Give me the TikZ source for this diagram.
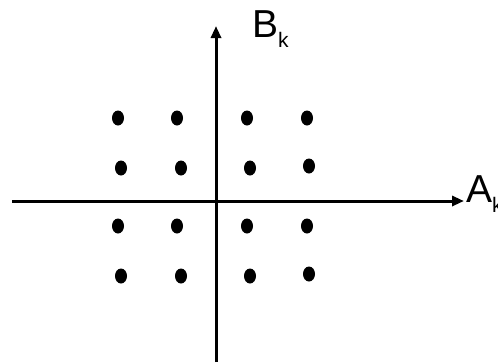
\documentclass[tikz,border=0pt]{standalone}
\usepackage{fontspec}
\setmainfont{Liberation Sans}
\usetikzlibrary{arrows.meta, shapes.geometric}
\begin{document}
\begin{tikzpicture}[
		x=1pt, y=-1pt,
		axis/.style={line width=3pt, -{Triangle[length=12pt, width=10pt]}},
		point/.style={ellipse, fill=black, minimum width=12pt, minimum height=15pt, inner sep=0pt},
		alabel/.style={inner sep=0pt, anchor=base west, font=\fontsize{39}{39}\selectfont},
	]
	\useasboundingbox (0,0) rectangle (498,362);
	\coordinate (xl) at (12, 201);
	\coordinate (xr) at (464, 201);
	\coordinate (yb) at (216, 362);
	\coordinate (yt) at (216, 26);

	\draw[axis] (xl) -- (xr);
	\draw[axis] (yb) -- (yt);

	\node[alabel] (bk) at (252, 37) {B\raisebox{-10pt}{\fontsize{21}{21}\selectfont k}};
	\node[alabel] (ak) at (466, 202) {A\raisebox{-10pt}{\fontsize{21}{21}\selectfont k}};

	% 16-QAM points
	\node[point] (p11) at (118, 118) {};
	\node[point] (p12) at (177, 118) {};
	\node[point] (p13) at (247, 118) {};
	\node[point] (p14) at (307, 118) {};
	\node[point] (p21) at (121, 168) {};
	\node[point] (p22) at (181, 168) {};
	\node[point] (p23) at (250, 168) {};
	\node[point] (p24) at (309, 166) {};
	\node[point] (p31) at (118, 226) {};
	\node[point] (p32) at (177, 226) {};
	\node[point] (p33) at (247, 226) {};
	\node[point] (p34) at (307, 226) {};
	\node[point] (p41) at (121, 276) {};
	\node[point] (p42) at (181, 276) {};
	\node[point] (p43) at (250, 276) {};
	\node[point] (p44) at (309, 274) {};
\end{tikzpicture}
\end{document}
